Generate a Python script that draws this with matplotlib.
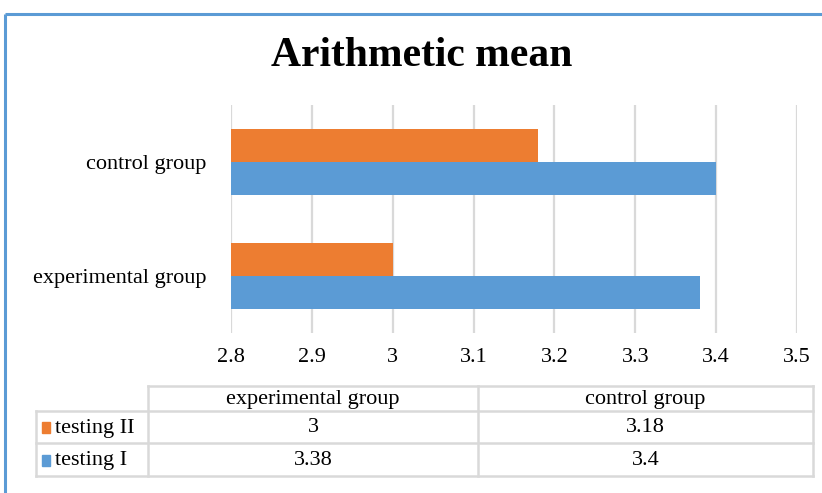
import matplotlib
matplotlib.use("Agg")
import matplotlib.pyplot as plt
import numpy as np

# Data
groups = ["experimental group", "control group"]
series_names = ["testing II", "testing I"]
testing_ii = [3.0, 3.18]
testing_i = [3.38, 3.4]
x_ticks = [2.8, 2.9, 3.0, 3.1, 3.2, 3.3, 3.4, 3.5]
x_tick_labels = ["2.8", "2.9", "3", "3.1", "3.2", "3.3", "3.4", "3.5"]
title = "Arithmetic mean"

ORANGE = "#ED7D31"
BLUE = "#5B9BD5"
GRID = "#D9D9D9"
SERIF = ["Liberation Serif", "DejaVu Serif"]

W, H = 822, 493
fig = plt.figure(figsize=(W / 100, H / 100), dpi=100)
fig.patch.set_facecolor("white")


def fx(px):
    return px / W


def fy(py):
    return 1 - py / H


# Chart frame (top and left edges visible)
frame = fig.add_axes([0, 0, 1, 1])
frame.set_xlim(0, W)
frame.set_ylim(H, 0)
frame.axis("off")
frame.plot([5, 5], [14, H], color=BLUE, lw=2.2, solid_capstyle="butt")
frame.plot([5, W], [14, 14], color=BLUE, lw=2.2, solid_capstyle="butt")

fig.text(fx(422), fy(56), title, ha="center", va="center",
         fontsize=30, fontweight="bold", family=SERIF)

# Bar chart
ax = fig.add_axes([fx(231), fy(333), fx(797) - fx(231), fy(105) - fy(333)])
y = np.arange(len(groups))
h = 0.29
ax.barh(y + h / 2, testing_ii, left=0, height=h, color=ORANGE, zorder=3)
ax.barh(y - h / 2, testing_i, left=0, height=h, color=BLUE, zorder=3)
ax.set_xlim(x_ticks[0], x_ticks[-1])
ax.set_ylim(-0.5, len(groups) - 0.5)
ax.set_xticks(x_ticks)
ax.set_xticklabels(x_tick_labels, family=SERIF, fontsize=16)
ax.set_yticks(y)
ax.set_yticklabels(groups, family=SERIF, fontsize=16)
ax.tick_params(axis="both", length=0)
ax.tick_params(axis="x", pad=11)
ax.tick_params(axis="y", pad=18)
ax.grid(axis="x", color=GRID, lw=1.6, zorder=0)
for s in ax.spines.values():
    s.set_visible(False)

# Data table below the chart
tab = frame
x0, xc1, xc2, x3 = 36, 148, 478, 813
y0, y1, y2, y3 = 386, 411, 443, 476
lc = dict(color=GRID, lw=1.8, zorder=2)
tab.plot([xc1, x3], [y0, y0], **lc)
tab.plot([x0, x3], [y1, y1], **lc)
tab.plot([x0, x3], [y2, y2], **lc)
tab.plot([x0, x3], [y3, y3], **lc)
tab.plot([x0, x0], [y1, y3], **lc)
tab.plot([xc1, xc1], [y0, y3], **lc)
tab.plot([xc2, xc2], [y0, y3], **lc)
tab.plot([x3, x3], [y0, y3], **lc)

col_centers = [(xc1 + xc2) / 2, (xc2 + x3) / 2]
for cx, g in zip(col_centers, groups):
    tab.text(cx, (y0 + y1) / 2 + 1, g, ha="center", va="center",
             fontsize=16, family=SERIF)

rows = [(series_names[0], testing_ii, ORANGE, (y1 + y2) / 2),
        (series_names[1], testing_i, BLUE, (y2 + y3) / 2)]
for name, vals, col, cy in rows:
    tab.add_patch(plt.Rectangle((42, cy - 5), 8, 11, color=col, zorder=3))
    tab.text(55, cy + 1, name, ha="left", va="center", fontsize=16, family=SERIF)
    for cx, v in zip(col_centers, vals):
        tab.text(cx, cy + 1, f"{v:g}", ha="center", va="center",
                 fontsize=16, family=SERIF)

fig.savefig("out.png", dpi=100)
